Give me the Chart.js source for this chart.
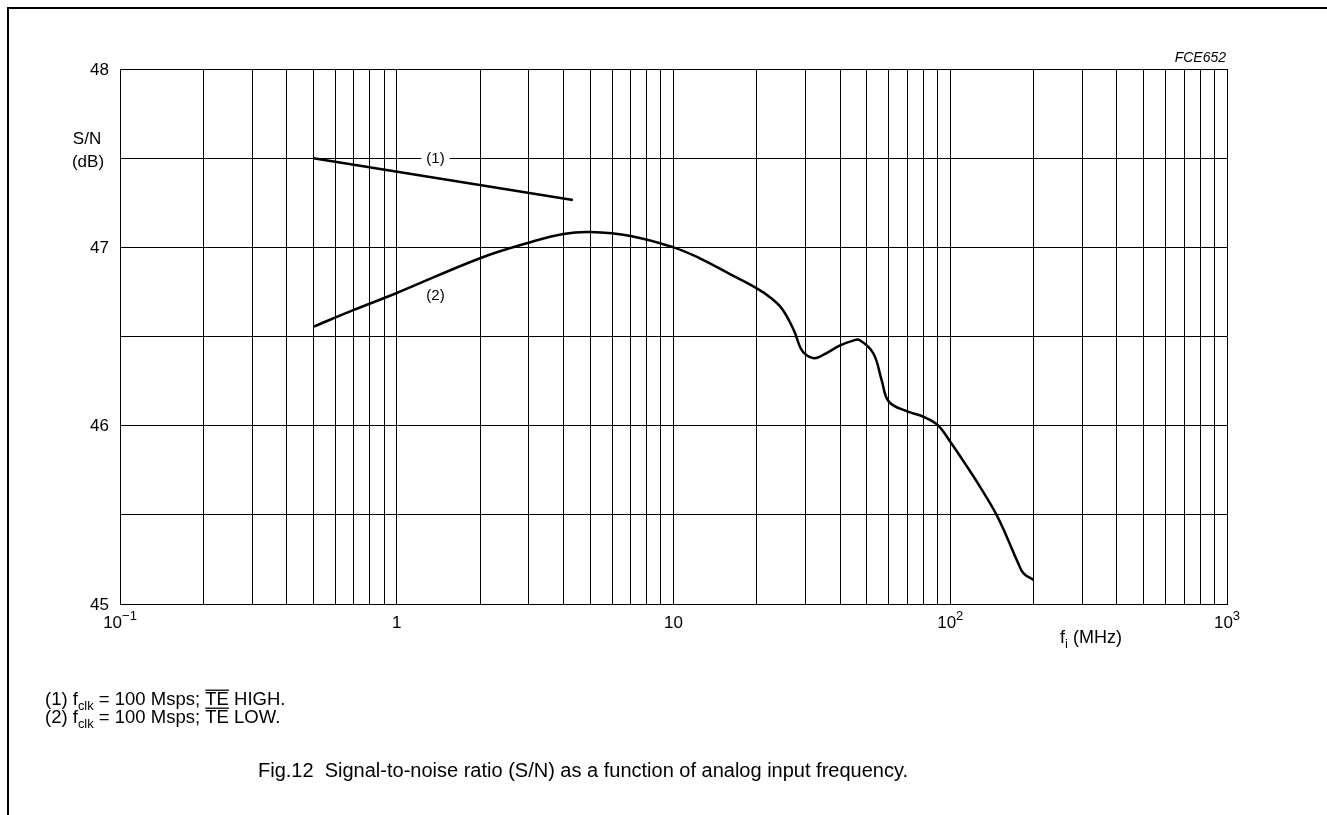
<!DOCTYPE html>
<html lang="en">
<head>
    <meta charset="UTF-8">
    <title>Fig.12 Signal-to-noise ratio</title>
    <script src="https://cdn.jsdelivr.net/npm/chart.js"></script>
    <style>
        html, body { margin: 0; padding: 0; background: #fff; }
        canvas { display: block; }
    </style>
</head>
<body>
    <canvas id="snChart" width="1327" height="815"></canvas>

    <script>
        // axis values
        const xDecades = [0.1, 1, 10, 100, 1000];
        const xTickLabels = [['10', '\u22121'], ['1', ''], ['10', ''], ['10', '2'], ['10', '3']];
        const yTickValues = [45, 46, 47, 48];
        const yGridStep = 0.5;

        // curve (1): TE HIGH
        const curve1Freq = [0.5, 4.33];
        const curve1SN = [47.5, 47.266];

        // curve (2): TE LOW
        const curve2Freq = [0.5, 0.7, 1, 2, 3, 4, 5, 7, 10, 12.4, 16, 20, 22.5, 24.8, 27.3, 28.8, 30, 32.4, 35.6, 40, 44.6, 47, 52.7, 56.5, 60, 70, 80, 90, 100, 115, 128, 147, 160, 176, 184, 200];
        const curve2SN = [46.555, 46.649, 46.744, 46.939, 47.026, 47.075, 47.086, 47.064, 47.0, 46.94, 46.85, 46.77, 46.716, 46.65, 46.53, 46.434, 46.40, 46.378, 46.406, 46.45, 46.477, 46.48, 46.406, 46.256, 46.135, 46.08, 46.05, 46.004, 45.91, 45.77, 45.658, 45.5, 45.377, 45.228, 45.172, 45.135];

        const FONT = '"Liberation Sans", Arial, sans-serif';

        function toPoints(xs, ys) {
            return xs.map((x, i) => ({ x: x, y: ys[i] }));
        }

        // draw a line of text made of parts (subscript / overline)
        function textParts(ctx, parts, x, y, size) {
            let cx = x;
            parts.forEach(p => {
                const s = p.sub ? size * 0.7 : size;
                ctx.font = s + 'px ' + FONT;
                const dy = p.sub ? size * 0.28 : 0;
                ctx.fillText(p.t, cx, y + dy);
                const w = ctx.measureText(p.t).width;
                if (p.over) {
                    ctx.beginPath();
                    ctx.lineWidth = 1.3;
                    ctx.moveTo(cx, y - size * 0.8);
                    ctx.lineTo(cx + w, y - size * 0.8);
                    ctx.stroke();
                }
                cx += w;
            });
        }

        const annotations = {
            id: 'annotations',
            afterDraw(chart) {
                const ctx = chart.ctx;
                const xs = chart.scales.x;
                const ys = chart.scales.y;
                ctx.save();
                ctx.fillStyle = '#000';
                ctx.strokeStyle = '#000';

                // outer frame
                ctx.lineWidth = 2;
                ctx.beginPath();
                ctx.moveTo(8, 815);
                ctx.lineTo(8, 8);
                ctx.lineTo(1327, 8);
                ctx.stroke();

                // y tick labels
                ctx.font = '17px ' + FONT;
                ctx.textAlign = 'right';
                ctx.textBaseline = 'middle';
                yTickValues.forEach(v => {
                    ctx.fillText(String(v), 109, ys.getPixelForValue(v) + 1);
                });

                // y axis title
                ctx.textAlign = 'center';
                ctx.fillText('S/N', 87, 139);
                ctx.fillText('(dB)', 88, 162);

                // x tick labels with superscripts
                ctx.textBaseline = 'alphabetic';
                ctx.textAlign = 'left';
                xDecades.forEach((v, i) => {
                    const base = xTickLabels[i][0];
                    const sup = xTickLabels[i][1];
                    ctx.font = '17px ' + FONT;
                    const wb = ctx.measureText(base).width;
                    ctx.font = '13px ' + FONT;
                    const ws = sup ? ctx.measureText(sup).width : 0;
                    const x0 = xs.getPixelForValue(v) - (wb + ws) / 2;
                    ctx.font = '17px ' + FONT;
                    ctx.fillText(base, x0, 628);
                    if (sup) {
                        ctx.font = '13px ' + FONT;
                        ctx.fillText(sup, x0 + wb, 620);
                    }
                });

                // x axis title
                ctx.font = '18px ' + FONT;
                ctx.fillText('f', 1060, 643);
                let w = ctx.measureText('f').width;
                ctx.font = '13px ' + FONT;
                ctx.fillText('i', 1060 + w, 648);
                let w2 = ctx.measureText('i').width;
                ctx.font = '18px ' + FONT;
                ctx.fillText(' (MHz)', 1060 + w + w2, 643);

                // drawing code
                ctx.font = 'italic 14px ' + FONT;
                ctx.textAlign = 'right';
                ctx.fillText('FCE652', 1226, 62);

                // curve labels with white background
                ctx.font = '15px ' + FONT;
                ctx.textAlign = 'center';
                ctx.textBaseline = 'middle';
                [['(1)', 1.38, 47.5], ['(2)', 1.38, 46.74]].forEach(l => {
                    const px = xs.getPixelForValue(l[1]);
                    const py = ys.getPixelForValue(l[2]);
                    const tw = ctx.measureText(l[0]).width;
                    ctx.fillStyle = '#fff';
                    ctx.fillRect(px - tw / 2 - 5, py - 3, tw + 10, 6);
                    ctx.fillStyle = '#000';
                    ctx.fillText(l[0], px, py + (l[0] === '(2)' ? 2 : 1));
                });

                // notes
                ctx.textAlign = 'left';
                ctx.textBaseline = 'alphabetic';
                textParts(ctx, [{ t: '(1) f' }, { t: 'clk', sub: true }, { t: ' = 100 Msps; ' }, { t: 'TE', over: true }, { t: ' HIGH.' }], 45, 705, 18.5);
                textParts(ctx, [{ t: '(2) f' }, { t: 'clk', sub: true }, { t: ' = 100 Msps; ' }, { t: 'TE', over: true }, { t: ' LOW.' }], 45, 723, 18.5);

                // caption
                ctx.font = '20px ' + FONT;
                ctx.fillText('Fig.12  Signal-to-noise ratio (S/N) as a function of analog input frequency.', 258, 777);

                ctx.restore();
            }
        };

        const ctx = document.getElementById('snChart').getContext('2d');
        const snChart = new Chart(ctx, {
            type: 'scatter',
            data: {
                datasets: [{
                    label: '(1)',
                    data: toPoints(curve1Freq, curve1SN),
                    showLine: true,
                    borderColor: '#000',
                    borderWidth: 2.5,
                    pointRadius: 0,
                    fill: false
                }, {
                    label: '(2)',
                    data: toPoints(curve2Freq, curve2SN),
                    showLine: true,
                    borderColor: '#000',
                    borderWidth: 2.5,
                    pointRadius: 0,
                    tension: 0.4,
                    fill: false
                }]
            },
            options: {
                responsive: false,
                animation: false,
                events: [],
                layout: {
                    padding: { left: 120, top: 69, right: 100, bottom: 211 }
                },
                plugins: {
                    legend: { display: false },
                    tooltip: { enabled: false }
                },
                scales: {
                    x: {
                        type: 'logarithmic',
                        min: 0.1,
                        max: 1000,
                        afterBuildTicks(scale) {
                            const ticks = [];
                            xDecades.slice(0, -1).forEach(d => {
                                for (let k = 1; k < 10; k++) ticks.push({ value: d * k });
                            });
                            ticks.push({ value: 1000 });
                            scale.ticks = ticks;
                        },
                        ticks: { display: false },
                        grid: { color: '#000', lineWidth: 1, drawTicks: false },
                        border: { color: '#000', width: 1 }
                    },
                    y: {
                        min: 45,
                        max: 48,
                        ticks: { display: false, stepSize: yGridStep },
                        grid: { color: '#000', lineWidth: 1, drawTicks: false },
                        border: { color: '#000', width: 1 }
                    }
                }
            },
            plugins: [annotations]
        });
    </script>
</body>
</html>
